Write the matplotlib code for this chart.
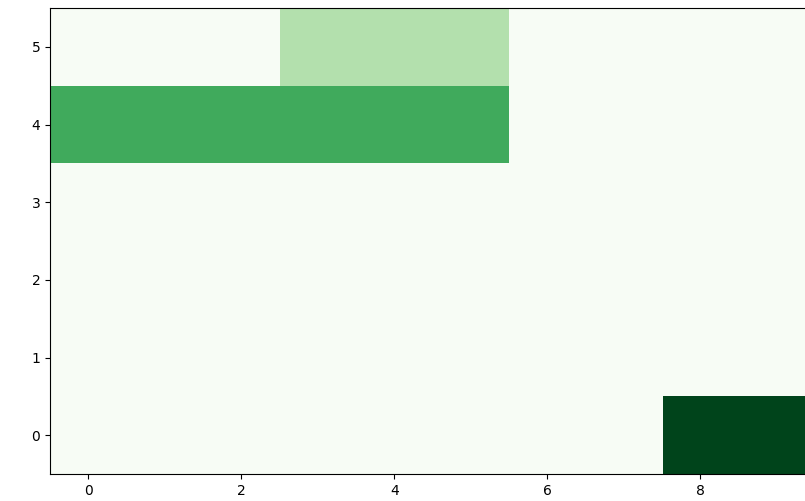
import numpy as np
import matplotlib
matplotlib.use("Agg")
import matplotlib.pyplot as plt

# heatmap values, row 0 at the bottom, columns 0..9
rows = [0, 1, 2, 3, 4, 5]
cols = [0, 1, 2, 3, 4, 5, 6, 7, 8, 9]
row0 = [0, 0, 0, 0, 0, 0, 0, 0, 16, 16]
row1 = [0, 0, 0, 0, 0, 0, 0, 0, 0, 0]
row2 = [0, 0, 0, 0, 0, 0, 0, 0, 0, 0]
row3 = [0, 0, 0, 0, 0, 0, 0, 0, 0, 0]
row4 = [10, 10, 10, 10, 10, 10, 0, 0, 0, 0]
row5 = [0, 0, 0, 5, 5, 5, 0, 0, 0, 0]

grid = np.array([row0, row1, row2, row3, row4, row5])

fig = plt.figure(figsize=(8.05, 5.01), dpi=100)
# the original is cropped on the right, so the axes run past the figure edge
ax = fig.add_axes([50 / 805, 27 / 501, 765 / 805, 466 / 501])
ax.imshow(grid, cmap="Greens", origin="lower", aspect="auto",
          interpolation="nearest", vmin=0, vmax=16)
ax.set_xticks([0, 2, 4, 6, 8])
ax.set_yticks(rows)
ax.tick_params(labelsize=10)

fig.savefig("out.png", dpi=100)
